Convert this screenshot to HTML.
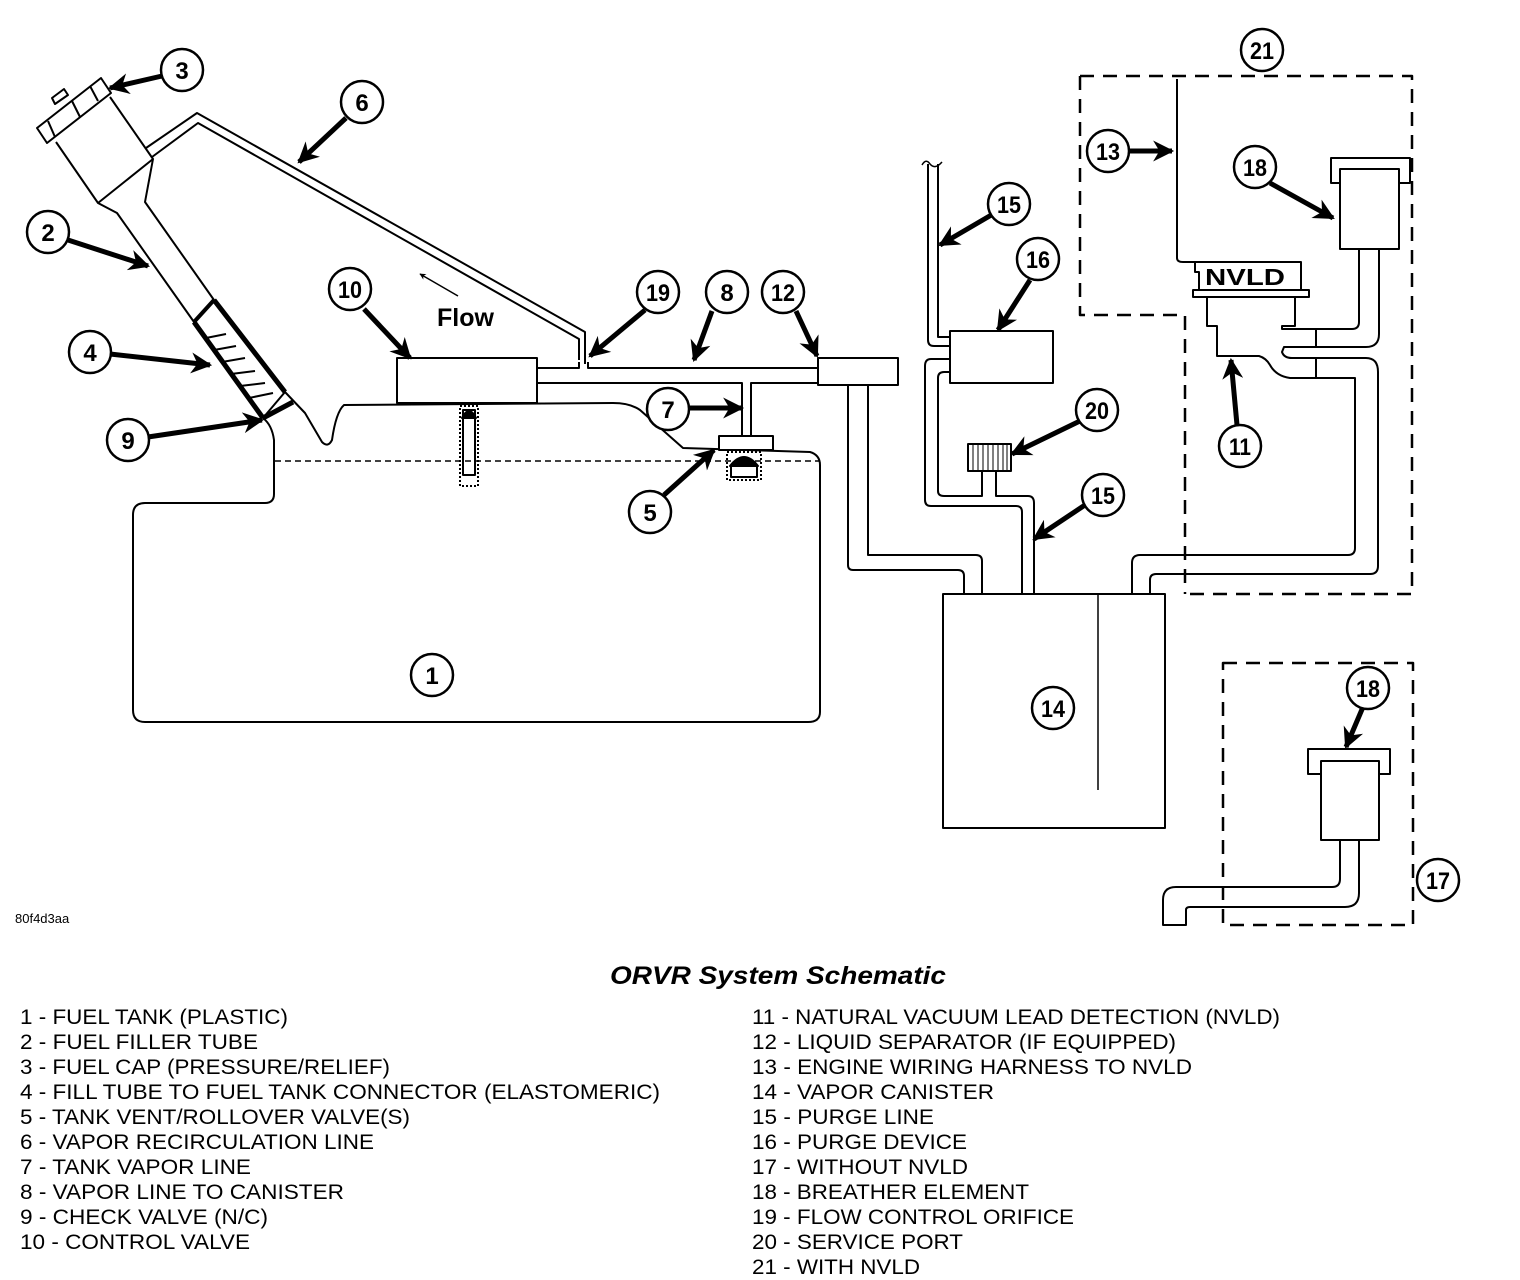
<!DOCTYPE html>
<html><head><meta charset="utf-8"><style>html,body{margin:0;padding:0;background:#fff}svg{display:block}</style></head><body>
<svg width="1520" height="1280" viewBox="0 0 1520 1280" xmlns="http://www.w3.org/2000/svg" font-family="Liberation Sans, sans-serif">
<defs>
<marker id="ah" viewBox="0 0 10 10" refX="9" refY="5" markerWidth="5" markerHeight="4.2" orient="auto" markerUnits="strokeWidth">
<path d="M0,0 L10,5 L0,10 L3,5 z" fill="#000"/></marker>
</defs>
<g fill="none" stroke="#000" stroke-width="2" stroke-linejoin="round">
<!-- cap -->
<polygon points="37,128 101,78 111,93 47,143" fill="#fff"/>
<polygon points="55,104 52,98 64,89 68,95" fill="#fff"/>
<line x1="48" y1="121" x2="55" y2="137"/><line x1="72" y1="101" x2="80" y2="117"/><line x1="90" y1="86" x2="98" y2="101"/>
<!-- filler head & tube -->
<polyline points="56,142 98,203 117,213 194,322"/>
<polyline points="110,97 153,159 145,202 214,300"/>
<line x1="98" y1="203" x2="153" y2="159"/>
<!-- connector band 4 -->
<polygon points="194,322 214,300 285,392 263,418" fill="#fff" stroke-width="2"/>
<line x1="194" y1="322" x2="263" y2="418" stroke-width="5"/>
<line x1="214" y1="300" x2="285" y2="392" stroke-width="5"/>
<line x1="194" y1="322" x2="214" y2="300" stroke-width="4"/>
<line x1="206" y1="338" x2="226" y2="334"/><line x1="214" y1="350" x2="236" y2="346"/><line x1="222" y1="362" x2="245" y2="358"/><line x1="231" y1="374" x2="255" y2="371"/><line x1="240" y1="386" x2="265" y2="383"/><line x1="249" y1="398" x2="273" y2="393"/>
<line x1="263" y1="418" x2="293" y2="402" stroke-width="5"/>
<!-- tube right to tank top -->
<path d="M285,392 L305,413 L322,442 Q328,448 332,440 Q336,412 344,405 L613,403 Q630,403 640,410 L683,448 L810,452 Q820,455 820,465 L820,712 Q820,722 808,722 L145,722 Q133,722 133,710 L133,515 Q133,503 145,503 L265,503 Q274,503 274,494 L274,440 Q272,425 263,418"/>
<line x1="275" y1="461" x2="820" y2="461" stroke-dasharray="6,4" stroke-width="1.6"/>
<!-- vapor recirc line 6 -->
<polyline points="146,148 197,113 585,332 585,364"/>
<polyline points="152,157 198,123 579,339 579,360"/>
<!-- control valve 10 -->
<rect x="397" y="358" width="140" height="45" fill="#fff"/>
<rect x="460" y="406" width="18" height="80" stroke-dasharray="2,2"/>
<rect x="463" y="410" width="12" height="65"/>
<path d="M462,418 Q469,404 476,418 z" fill="#000"/>
<!-- vapor line 8 -->
<polyline points="537,368 579,368 579,362"/>
<polyline points="588,362 588,368 818,368"/>
<polyline points="537,383 742,383 742,437"/>
<polyline points="818,383 751,383 751,437"/>
<!-- valve 5 -->
<rect x="719" y="436" width="54" height="14" fill="#fff"/>
<rect x="727" y="452" width="34" height="28" stroke-dasharray="2,2"/>
<path d="M730,466 Q744,448 758,466 z" fill="#000"/>
<rect x="731" y="466" width="26" height="11"/>
<!-- separator 12 -->
<rect x="818" y="358" width="80" height="27" fill="#fff"/>
<path d="M848,385 L848,565 Q848,570 853,570 L958,570 Q964,570 964,576 L964,594"/>
<path d="M868,385 L868,555 L976,555 Q982,555 982,561 L982,594"/>
<!-- canister 14 -->
<rect x="943" y="594" width="222" height="234"/>
<line x1="1098" y1="594" x2="1098" y2="790" stroke-width="1.5"/>
<!-- purge line 15 top -->
<path d="M922,165 Q926,158 930,164 Q935,170 942,162" stroke-width="1.5"/>
<path d="M928,164 L928,340 Q928,346 934,346 L950,346"/>
<path d="M938,164 L938,337 L950,337"/>
<rect x="950" y="331" width="103" height="52" fill="#fff"/>
<path d="M950,359 L931,359 Q925,359 925,366 L925,500 Q925,506 931,506 L1016,506 Q1022,506 1022,512 L1022,594"/>
<path d="M950,372 L944,372 Q938,372 938,378 L938,491 Q938,496 944,496 L982,496 L982,471"/>
<path d="M996,471 L996,496 L1028,496 Q1034,496 1034,503 L1034,594"/>
<rect x="968" y="444" width="43" height="27" fill="#fff"/>
<g stroke-width="1"><line x1="973" y1="444" x2="973" y2="471"/><line x1="978" y1="444" x2="978" y2="471"/><line x1="983" y1="444" x2="983" y2="471"/><line x1="988" y1="444" x2="988" y2="471"/><line x1="993" y1="444" x2="993" y2="471"/><line x1="998" y1="444" x2="998" y2="471"/><line x1="1003" y1="444" x2="1003" y2="471"/><line x1="1007" y1="444" x2="1007" y2="471"/></g>
<!-- dashed box 21 -->
<path d="M1080,76 L1412,76 L1412,594 L1190,594 M1080,76 L1080,315 L1185,315 L1185,594" stroke-dasharray="14,9" stroke-width="2.5"/>
<!-- wire 13 -->
<path d="M1177,79 L1177,258 Q1177,262 1183,262 L1195,262"/>
<!-- NVLD -->
<path d="M1195,262 L1195,272 L1199,272 L1199,290 M1193,262 L1301,262 L1301,290"/>
<rect x="1193" y="290" width="116" height="7"/>
<path d="M1207,297 L1207,326 L1217,326 L1217,356 L1259,356 Q1266,358 1270,365 Q1276,376 1290,378 L1355,378 Q1355,378 1355,384 L1355,548 Q1355,555 1348,555 L1140,555 Q1132,555 1132,563 L1132,594"/>
<path d="M1295,297 L1295,326 L1282,326 L1282,329 L1352,329 Q1359,329 1359,322 L1359,249"/>
<path d="M1379,249 L1379,334 Q1379,347 1366,347 L1284,347 L1282,352 Q1284,358 1292,358 L1366,358 Q1378,358 1378,372 L1378,566 Q1378,574 1370,574 L1156,574 Q1150,574 1150,580 L1150,594"/>
<line x1="1316" y1="329" x2="1316" y2="347"/><line x1="1316" y1="358" x2="1316" y2="378"/>
<rect x="1331" y="158" width="79" height="25" fill="#fff"/>
<rect x="1340" y="169" width="59" height="80" fill="#fff"/>
<!-- box 17 -->
<rect x="1223" y="663" width="190" height="262" stroke-dasharray="14,9" stroke-width="2.5"/>
<rect x="1308" y="749" width="82" height="25" fill="#fff"/>
<rect x="1321" y="761" width="58" height="79" fill="#fff"/>
<path d="M1340,840 L1340,879 Q1340,887 1332,887 L1176,887 Q1163,887 1163,900 L1163,925 L1186,925 L1186,910 Q1186,907 1190,907 L1345,907 Q1359,907 1359,893 L1359,840"/>
</g>
<!-- arrows -->
<g stroke="#000" stroke-width="5" fill="none" marker-end="url(#ah)">
<line x1="162" y1="76" x2="110" y2="88"/>
<line x1="346" y1="118" x2="299" y2="162"/>
<line x1="68" y1="240" x2="148" y2="266"/>
<line x1="364" y1="309" x2="410" y2="358"/>
<line x1="645" y1="310" x2="590" y2="356"/>
<line x1="712" y1="311" x2="694" y2="360"/>
<line x1="796" y1="311" x2="817" y2="356"/>
<line x1="110" y1="354" x2="210" y2="365"/>
<line x1="689" y1="408" x2="742" y2="408"/>
<line x1="148" y1="437" x2="262" y2="420"/>
<line x1="664" y1="495" x2="714" y2="450"/>
<line x1="1129" y1="151" x2="1172" y2="151"/>
<line x1="1270" y1="183" x2="1333" y2="218"/>
<line x1="993" y1="214" x2="940" y2="245"/>
<line x1="1030" y1="280" x2="998" y2="330"/>
<line x1="1082" y1="420" x2="1012" y2="454"/>
<line x1="1088" y1="503" x2="1034" y2="539"/>
<line x1="1237" y1="425" x2="1231" y2="360"/>
<line x1="1363" y1="707" x2="1346" y2="747"/>
</g>
<line x1="458" y1="296" x2="420" y2="274" stroke="#000" stroke-width="1.5" marker-end="url(#ah)"/>
<text x="437" y="326" font-size="25" font-weight="bold">Flow</text>
<text x="1205" y="285" font-size="23" font-weight="bold" textLength="80" lengthAdjust="spacingAndGlyphs">NVLD</text>
<!-- callouts -->
<g fill="#fff" stroke="#000" stroke-width="2.5">
<circle cx="182" cy="70" r="21"/><circle cx="362" cy="102" r="21"/><circle cx="48" cy="232" r="21"/><circle cx="350" cy="289" r="21"/><circle cx="658" cy="292" r="21"/><circle cx="727" cy="292" r="21"/><circle cx="783" cy="292" r="21"/><circle cx="90" cy="352" r="21"/><circle cx="668" cy="409" r="21"/><circle cx="128" cy="440" r="21"/><circle cx="650" cy="512" r="21"/><circle cx="432" cy="675" r="21"/><circle cx="1262" cy="50" r="21"/><circle cx="1108" cy="151" r="21"/><circle cx="1255" cy="167" r="21"/><circle cx="1009" cy="204" r="21"/><circle cx="1038" cy="259" r="21"/><circle cx="1097" cy="410" r="21"/><circle cx="1103" cy="495" r="21"/><circle cx="1240" cy="446" r="21"/><circle cx="1053" cy="708" r="21"/><circle cx="1368" cy="688" r="21"/><circle cx="1438" cy="880" r="21"/>
</g>
<g font-size="24" font-weight="bold" text-anchor="middle" lengthAdjust="spacingAndGlyphs">
<text x="182" y="79">3</text><text x="362" y="111">6</text><text x="48" y="241">2</text><text x="350" y="298" textLength="24" lengthAdjust="spacingAndGlyphs">10</text><text x="658" y="301" textLength="24" lengthAdjust="spacingAndGlyphs">19</text><text x="727" y="301">8</text><text x="783" y="301" textLength="24" lengthAdjust="spacingAndGlyphs">12</text><text x="90" y="361">4</text><text x="668" y="418">7</text><text x="128" y="449">9</text><text x="650" y="521">5</text><text x="432" y="684">1</text><text x="1262" y="59" textLength="24" lengthAdjust="spacingAndGlyphs">21</text><text x="1108" y="160" textLength="24" lengthAdjust="spacingAndGlyphs">13</text><text x="1255" y="176" textLength="24" lengthAdjust="spacingAndGlyphs">18</text><text x="1009" y="213" textLength="24" lengthAdjust="spacingAndGlyphs">15</text><text x="1038" y="268" textLength="24" lengthAdjust="spacingAndGlyphs">16</text><text x="1097" y="419" textLength="24" lengthAdjust="spacingAndGlyphs">20</text><text x="1103" y="504" textLength="24" lengthAdjust="spacingAndGlyphs">15</text><text x="1240" y="455" textLength="22" lengthAdjust="spacingAndGlyphs">11</text><text x="1053" y="717" textLength="24" lengthAdjust="spacingAndGlyphs">14</text><text x="1368" y="697" textLength="24" lengthAdjust="spacingAndGlyphs">18</text><text x="1438" y="889" textLength="24" lengthAdjust="spacingAndGlyphs">17</text>
</g>
<text x="15" y="923" font-size="13">80f4d3aa</text>
<text x="778" y="984" font-size="25" font-weight="bold" font-style="italic" text-anchor="middle" textLength="336" lengthAdjust="spacingAndGlyphs">ORVR System Schematic</text>
<g font-size="21">
<text x="20" y="1024" textLength="268" lengthAdjust="spacingAndGlyphs">1 - FUEL TANK (PLASTIC)</text>
<text x="20" y="1049" textLength="238" lengthAdjust="spacingAndGlyphs">2 - FUEL FILLER TUBE</text>
<text x="20" y="1074" textLength="370" lengthAdjust="spacingAndGlyphs">3 - FUEL CAP (PRESSURE/RELIEF)</text>
<text x="20" y="1099" textLength="640" lengthAdjust="spacingAndGlyphs">4 - FILL TUBE TO FUEL TANK CONNECTOR (ELASTOMERIC)</text>
<text x="20" y="1124" textLength="390" lengthAdjust="spacingAndGlyphs">5 - TANK VENT/ROLLOVER VALVE(S)</text>
<text x="20" y="1149" textLength="354" lengthAdjust="spacingAndGlyphs">6 - VAPOR RECIRCULATION LINE</text>
<text x="20" y="1174" textLength="231" lengthAdjust="spacingAndGlyphs">7 - TANK VAPOR LINE</text>
<text x="20" y="1199" textLength="324" lengthAdjust="spacingAndGlyphs">8 - VAPOR LINE TO CANISTER</text>
<text x="20" y="1224" textLength="248" lengthAdjust="spacingAndGlyphs">9 - CHECK VALVE (N/C)</text>
<text x="20" y="1249" textLength="230" lengthAdjust="spacingAndGlyphs">10 - CONTROL VALVE</text>
<text x="752" y="1024" textLength="528" lengthAdjust="spacingAndGlyphs">11 - NATURAL VACUUM LEAD DETECTION (NVLD)</text>
<text x="752" y="1049" textLength="424" lengthAdjust="spacingAndGlyphs">12 - LIQUID SEPARATOR (IF EQUIPPED)</text>
<text x="752" y="1074" textLength="440" lengthAdjust="spacingAndGlyphs">13 - ENGINE WIRING HARNESS TO NVLD</text>
<text x="752" y="1099" textLength="242" lengthAdjust="spacingAndGlyphs">14 - VAPOR CANISTER</text>
<text x="752" y="1124" textLength="182" lengthAdjust="spacingAndGlyphs">15 - PURGE LINE</text>
<text x="752" y="1149" textLength="215" lengthAdjust="spacingAndGlyphs">16 - PURGE DEVICE</text>
<text x="752" y="1174" textLength="216" lengthAdjust="spacingAndGlyphs">17 - WITHOUT NVLD</text>
<text x="752" y="1199" textLength="277" lengthAdjust="spacingAndGlyphs">18 - BREATHER ELEMENT</text>
<text x="752" y="1224" textLength="322" lengthAdjust="spacingAndGlyphs">19 - FLOW CONTROL ORIFICE</text>
<text x="752" y="1249" textLength="211" lengthAdjust="spacingAndGlyphs">20 - SERVICE PORT</text>
<text x="752" y="1274" textLength="168" lengthAdjust="spacingAndGlyphs">21 - WITH NVLD</text>
</g>
</svg>
</body></html>
